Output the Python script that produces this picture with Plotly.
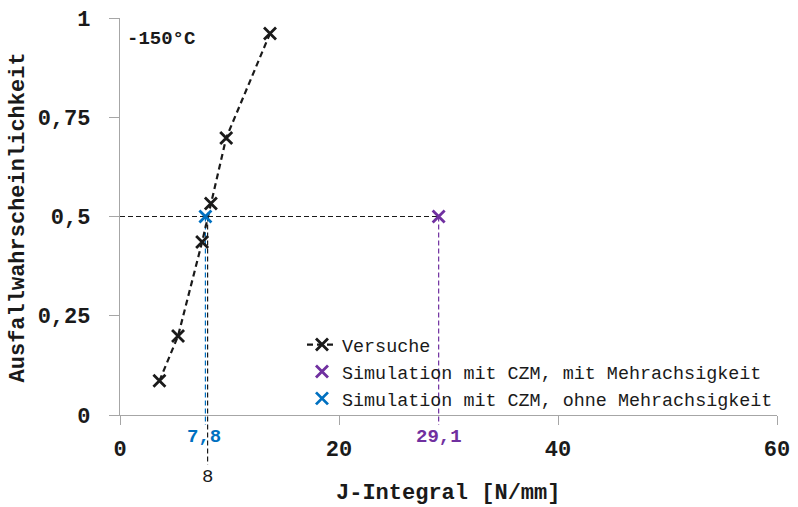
import plotly.graph_objects as go

# Versuche (test results): J-integral [N/mm] vs. failure probability
versuche_j = [3.6, 5.3, 7.5, 8.3, 9.7, 13.7]
versuche_p = [0.086, 0.199, 0.436, 0.533, 0.698, 0.961]

# Simulation results at 50 % failure probability
sim_mit_j = [29.1]
sim_mit_p = [0.5]
sim_ohne_j = [7.8]
sim_ohne_p = [0.5]
versuche_median_j = 8

y_tickvals = [0, 0.25, 0.5, 0.75, 1]
y_ticktext = ["0", "0,25", "0,5", "0,75", "1"]
x_tickvals = [0, 20, 40, 60]

PURPLE = "#7030A0"
BLUE = "#0070C0"
BLACK = "#1a1a1a"
GREY = "#a6a6a6"
FONT = "Liberation Mono"

fig = go.Figure()

fig.add_trace(go.Scatter(
    x=versuche_j, y=versuche_p, mode="lines+markers", name="Versuche",
    line=dict(color=BLACK, width=2.2, dash="6px,4px"),
    marker=dict(symbol="x-thin", size=12, line=dict(color=BLACK, width=2.8)),
))
fig.add_trace(go.Scatter(
    x=sim_mit_j, y=sim_mit_p, mode="markers",
    name="Simulation mit CZM, mit Mehrachsigkeit",
    marker=dict(symbol="x-thin", size=12, line=dict(color=PURPLE, width=2.8)),
))
fig.add_trace(go.Scatter(
    x=sim_ohne_j, y=sim_ohne_p, mode="markers",
    name="Simulation mit CZM, ohne Mehrachsigkeit",
    marker=dict(symbol="x-thin", size=12, line=dict(color=BLUE, width=2.8)),
))

# guide lines at 50 % failure probability
guide = dict(width=1.2, dash="5px,3px")
shapes = [
    dict(type="line", xref="x", yref="y", x0=0, x1=sim_mit_j[0], y0=0.5, y1=0.5,
         line=dict(color=BLACK, **guide), layer="below"),
    dict(type="line", xref="x", yref="paper", x0=versuche_median_j, x1=versuche_median_j,
         y0=0.5, y1=-0.125, line=dict(color=BLACK, **guide), layer="below"),
    dict(type="line", xref="x", yref="paper", x0=sim_ohne_j[0], x1=sim_ohne_j[0],
         y0=0.5, y1=-0.025, line=dict(color=BLUE, **guide), layer="below"),
    dict(type="line", xref="x", yref="paper", x0=sim_mit_j[0], x1=sim_mit_j[0],
         y0=0.5, y1=-0.025, line=dict(color=PURPLE, **guide), layer="below"),
]

annotations = [
    dict(text="-150°C", x=0.008, y=0.948, xref="paper", yref="paper", xanchor="left",
         yanchor="middle", showarrow=False, font=dict(family=FONT, size=19, color=BLACK, weight="bold")),
    dict(text="7,8", x=sim_ohne_j[0], y=-0.055, xref="x", yref="paper", showarrow=False,
         xanchor="center", yanchor="middle", xshift=-1,
         font=dict(family=FONT, size=19, color=BLUE, weight="bold")),
    dict(text="29,1", x=sim_mit_j[0], y=-0.055, xref="x", yref="paper", showarrow=False,
         xanchor="center", yanchor="middle",
         font=dict(family=FONT, size=19, color=PURPLE, weight="bold")),
    dict(text="8", x=versuche_median_j, y=-0.157, xref="x", yref="paper", showarrow=False,
         xanchor="center", yanchor="middle",
         font=dict(family=FONT, size=19, color=BLACK)),
    dict(text="J-Integral [N/mm]", x=0.499, y=-0.197, xref="paper", yref="paper",
         showarrow=False, xanchor="center", yanchor="middle",
         font=dict(family=FONT, size=22, color=BLACK, weight="bold")),
    dict(text="Ausfallwahrscheinlichkeit", x=-0.155, y=0.498, xref="paper", yref="paper",
         showarrow=False, xanchor="center", yanchor="middle", textangle=-90,
         font=dict(family=FONT, size=22, color=BLACK, weight="bold")),
]

fig.update_layout(
    width=798, height=507,
    margin=dict(l=120, r=21, t=18, b=92),
    paper_bgcolor="white", plot_bgcolor="white",
    font=dict(family=FONT, color=BLACK),
    shapes=shapes, annotations=annotations,
    showlegend=True,
    legend=dict(x=0.277, y=0.224, xanchor="left", yanchor="top",
                bgcolor="rgba(0,0,0,0)", font=dict(family=FONT, size=18.4, color=BLACK),
                tracegroupgap=0),
    xaxis=dict(range=[0, 60], tickvals=x_tickvals, showgrid=False, zeroline=False,
               automargin=False,
               showline=True, linecolor=GREY, linewidth=1.3, ticks="outside", ticklen=9,
               tickcolor=GREY, tickwidth=1.3, ticklabelstandoff=4,
               tickfont=dict(family=FONT, size=22, color=BLACK, weight="bold")),
    yaxis=dict(range=[0, 1], tickvals=y_tickvals, ticktext=y_ticktext, showgrid=False,
               automargin=False,
               zeroline=False, showline=True, linecolor=GREY, linewidth=1.3,
               ticks="outside", ticklen=10, tickcolor=GREY, tickwidth=1.3,
               ticklabelstandoff=14,
               tickfont=dict(family=FONT, size=22, color=BLACK, weight="bold")),
)

fig.write_html("out.html")
